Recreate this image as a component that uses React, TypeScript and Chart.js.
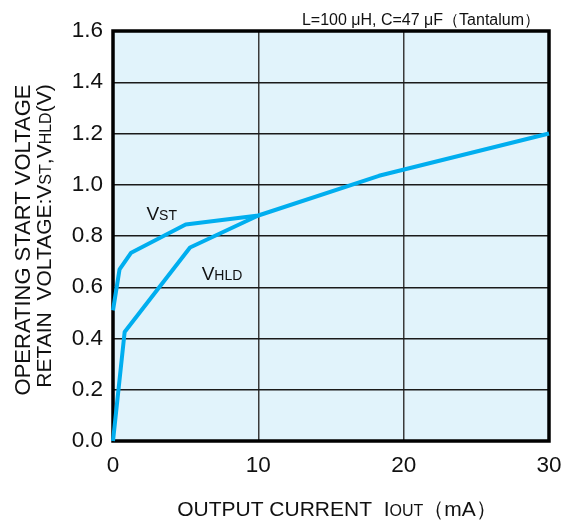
import React, { useEffect, useRef } from "react";
import { Chart, registerables } from "chart.js";

Chart.register(...registerables);

const vstCurrent = [0, 0.45, 1.25, 5.0, 10, 18.3, 30];
const vstVoltage = [0.51, 0.67, 0.735, 0.845, 0.88, 1.035, 1.2];
const vhldCurrent = [0, 0.8, 5.3, 10];
const vhldVoltage = [0, 0.425, 0.755, 0.88];
const xTickValues = [0, 10, 20, 30];
const yTickValues = [0, 0.2, 0.4, 0.6, 0.8, 1.0, 1.2, 1.4, 1.6];

const FONT = "'Liberation Sans', Arial, Helvetica, sans-serif";
const LINE_COLOR = "#00aeef";
const BG = "#e1f3fb";

type Seg = [string, number];

function drawRich(
  ctx: CanvasRenderingContext2D,
  segs: Seg[],
  x: number,
  y: number,
  rot: number,
  align: "center" | "left" | "right"
) {
  ctx.save();
  ctx.translate(x, y);
  ctx.rotate(rot);
  ctx.textBaseline = "alphabetic";
  ctx.textAlign = "left";
  let total = 0;
  const widths = segs.map(([t, s]) => {
    ctx.font = `${s}px ${FONT}`;
    const w = ctx.measureText(t).width;
    total += w;
    return w;
  });
  let cx = align === "center" ? -total / 2 : align === "right" ? -total : 0;
  segs.forEach(([t, s], i) => {
    ctx.font = `${s}px ${FONT}`;
    ctx.fillText(t, cx, 0);
    cx += widths[i];
  });
  ctx.restore();
}

const decorPlugin = {
  id: "decor",
  beforeDraw(chart: any) {
    const { ctx, chartArea: a } = chart;
    ctx.save();
    ctx.fillStyle = BG;
    ctx.fillRect(a.left, a.top, a.right - a.left, a.bottom - a.top);
    ctx.restore();
  },
  beforeDatasetsDraw(chart: any) {
    const { ctx, chartArea: a } = chart;
    ctx.save();
    ctx.strokeStyle = "#000";
    ctx.lineWidth = 3.5;
    ctx.strokeRect(a.left, a.top, a.right - a.left, a.bottom - a.top);
    ctx.restore();
  },
  afterDraw(chart: any) {
    const { ctx, scales } = chart;
    const xs = scales.x;
    const ys = scales.y;
    ctx.save();
    ctx.fillStyle = "#111";
    // top note
    drawRich(ctx, [["L=100 μH, C=47 μF（Tantalum）", 16]], 540, 25, 0, "right");
    // curve labels
    drawRich(ctx, [["V", 19], ["ST", 14]], xs.getPixelForValue(2.3), ys.getPixelForValue(0.861), 0, "left");
    drawRich(ctx, [["V", 19], ["HLD", 14]], xs.getPixelForValue(6.1), ys.getPixelForValue(0.629), 0, "left");
    // x title
    drawRich(
      ctx,
      [["OUTPUT CURRENT  I", 21], ["OUT", 16], ["（mA）", 21]],
      337,
      516,
      0,
      "center"
    );
    // y title
    drawRich(ctx, [["OPERATING START VOLTAGE", 22]], 30, 240, -Math.PI / 2, "center");
    drawRich(
      ctx,
      [["RETAIN  VOLTAGE:V", 21], ["ST", 16], [",V", 21], ["HLD", 16], ["(V)", 21]],
      51,
      236,
      -Math.PI / 2,
      "center"
    );
    ctx.restore();
  },
};

export default function App() {
  const ref = useRef<HTMLCanvasElement | null>(null);
  useEffect(() => {
    if (!ref.current) return;
    const chart = new Chart(ref.current, {
      type: "line",
      data: {
        datasets: [
          {
            label: "VST",
            data: vstCurrent.map((x, i) => ({ x, y: vstVoltage[i] })),
            borderColor: LINE_COLOR,
            borderWidth: 4,
            pointRadius: 0,
            tension: 0,
            fill: false,
            clip: 6,
            borderJoinStyle: "round",
          } as any,
          {
            label: "VHLD",
            data: vhldCurrent.map((x, i) => ({ x, y: vhldVoltage[i] })),
            borderColor: LINE_COLOR,
            borderWidth: 4,
            pointRadius: 0,
            tension: 0,
            fill: false,
            clip: 6,
            borderJoinStyle: "round",
          } as any,
        ],
      },
      options: {
        animation: false,
        responsive: false,
        maintainAspectRatio: false,
        layout: { padding: { top: 31, right: 17, left: 0, bottom: 0 } },
        plugins: {
          legend: { display: false },
          tooltip: { enabled: false },
          title: { display: false },
        },
        scales: {
          x: {
            type: "linear",
            min: 0,
            max: 30,
            afterBuildTicks: (s: any) => {
              s.ticks = xTickValues.map((v) => ({ value: v }));
            },
            afterFit: (s: any) => {
              s.height = 87;
              s.paddingLeft = 0;
              s.paddingRight = 0;
            },
            ticks: {
              color: "#111",
              font: { family: FONT, size: 22.5 },
              padding: 11,
              maxRotation: 0,
              callback: (v: any) => String(v),
            },
            grid: { color: "#3a3a3a", lineWidth: 1.5, drawTicks: false },
            border: { display: false },
          },
          y: {
            type: "linear",
            min: 0,
            max: 1.6,
            afterBuildTicks: (s: any) => {
              s.ticks = yTickValues.map((v) => ({ value: v }));
            },
            afterFit: (s: any) => {
              s.width = 113;
              s.paddingTop = 0;
              s.paddingBottom = 0;
            },
            ticks: {
              color: "#111",
              font: { family: FONT, size: 22.5 },
              padding: 10,
              callback: (v: any) => Number(v).toFixed(1),
            },
            grid: { color: "#1a1a1a", lineWidth: 1.5, drawTicks: false },
            border: { display: false },
          },
        },
      },
      plugins: [decorPlugin],
    });
    return () => chart.destroy();
  }, []);
  return (
    <div style={{ position: "fixed", left: 0, top: 0, width: 566, height: 528, background: "#fff" }}>
      <canvas ref={ref} width={566} height={528} style={{ width: 566, height: 528 }} />
    </div>
  );
}
